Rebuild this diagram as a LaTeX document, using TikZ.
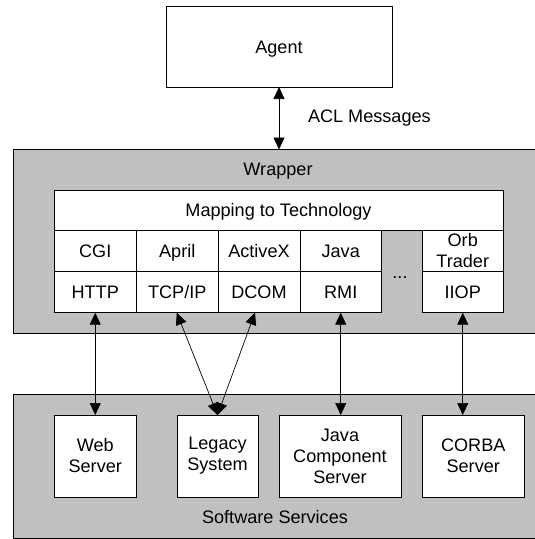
\documentclass[tikz,border=0pt]{standalone}
\usepackage{fontspec}
\setmainfont{Liberation Sans}
\usetikzlibrary{arrows.meta,calc}
\definecolor{boxgray}{RGB}{192,192,192}
\begin{document}
\begin{tikzpicture}[x=1pt,y=-1pt,
  every node/.style={font=\fontsize{18.1pt}{21pt}\selectfont, inner sep=0pt, outer sep=0pt},
  whitebox/.style={draw=black, line width=0.8pt, fill=white, anchor=north west, align=center},
  cell/.style={whitebox, text height=13pt, text depth=0pt},
  panel/.style={draw=black, line width=0.8pt, fill=boxgray, anchor=north west},
  conn/.style={line width=0.7pt, {Triangle[length=12pt,width=11pt]}-{Triangle[length=12pt,width=11pt]}},
]
\clip (0,0) rectangle (535,539);
\fill[white] (0,0) rectangle (535,539);

% agent
\node[cell, minimum width=226pt, minimum height=81pt] (agent) at (166,6) {Agent};
\node[anchor=west] (acl) at (308,118) {ACL Messages};

% wrapper panel
\node[panel, minimum width=540pt, minimum height=183.5pt] (wrapper) at (13.5,149.5) {};
\node (wraplabel) at (278,171) {Wrapper};
\node[cell, minimum width=449pt, minimum height=39.3pt] (mapping) at (54,190.7) {Mapping to Technology};

\node[cell, minimum width=82.5pt, minimum height=41.7pt] (cgi) at (54,230) {CGI};
\node[cell, minimum width=81.5pt, minimum height=41.7pt] (april) at (136.5,230) {April};
\node[cell, minimum width=82pt, minimum height=41.7pt] (activex) at (218,230) {ActiveX};
\node[cell, minimum width=81.5pt, minimum height=41.7pt] (java) at (300,230) {Java};
\node[whitebox, minimum width=80.5pt, minimum height=41.7pt] (orb) at (422.5,230) {Orb\\Trader};

\node[cell, minimum width=82.5pt, minimum height=41pt] (http) at (54,271.7) {HTTP};
\node[cell, minimum width=81.5pt, minimum height=41pt] (tcpip) at (136.5,271.7) {TCP/IP};
\node[cell, minimum width=82pt, minimum height=41pt] (dcom) at (218,271.7) {DCOM};
\node[cell, minimum width=81.5pt, minimum height=41pt] (rmi) at (300,271.7) {RMI};
\node[cell, minimum width=80.5pt, minimum height=41pt] (iiop) at (422.5,271.7) {IIOP};
\node[anchor=base] (dots) at (400,278) {...};

% software services panel
\node[panel, minimum width=540pt, minimum height=144pt] (software) at (13.5,394) {};
\node (softlabel) at (275,517) {Software Services};
\node[whitebox, minimum width=82.5pt, minimum height=82pt] (web) at (54,415) {Web\\Server};
\node[whitebox, minimum width=81pt, minimum height=82pt] (legacy) at (177,415) {Legacy\\System};
\node[whitebox, minimum width=122pt, minimum height=82pt] (jcs) at (279,415) {Java\\Component\\Server};
\node[whitebox, minimum width=101.5pt, minimum height=82pt] (corba) at (422.5,415) {CORBA\\Server};

% connectors
\draw[conn] (agent.south) -- (agent.south |- wrapper.north);
\draw[conn] (http.south) -- (web.north);
\draw[conn] ([xshift=-0.5pt]tcpip.south) -- (legacy.north);
\draw[conn] ([xshift=-4pt]dcom.south) -- (legacy.north);
\draw[conn] (rmi.south) -- (rmi.south |- jcs.north);
\draw[conn] (iiop.south) -- (iiop.south |- corba.north);
\end{tikzpicture}
\end{document}
